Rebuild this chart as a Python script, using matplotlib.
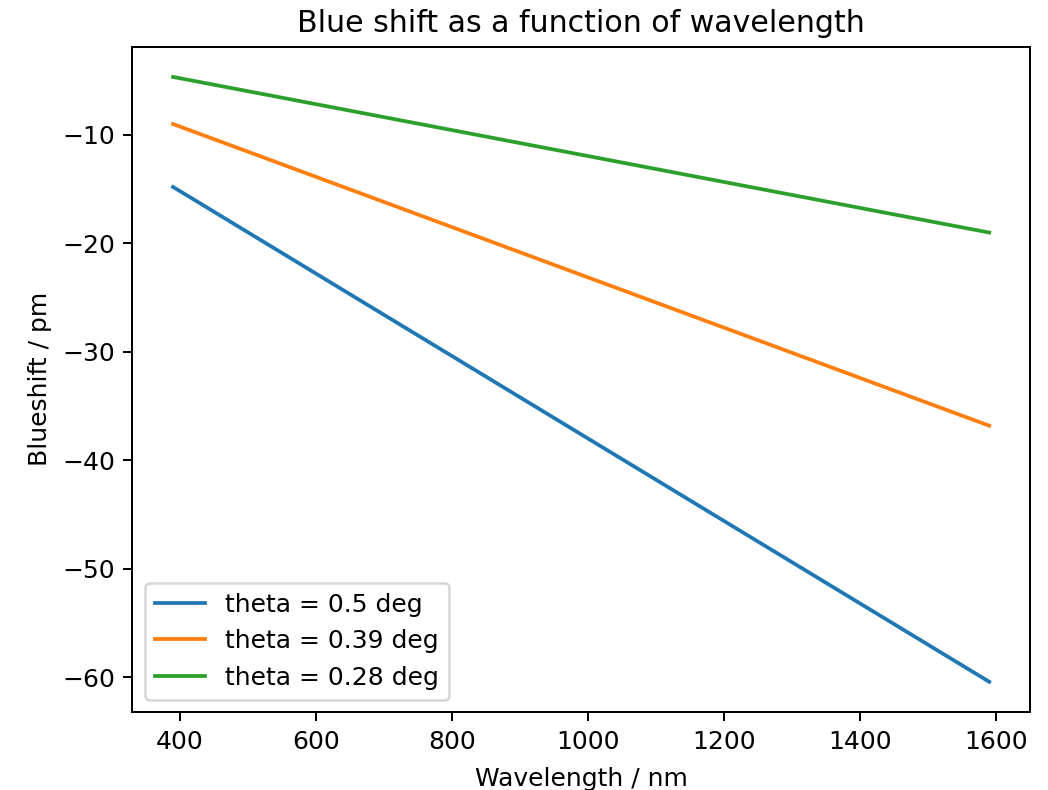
import matplotlib
matplotlib.use("Agg")
import matplotlib.pyplot as plt

wavelength = [390, 1590]
shift_05 = [-14.8, -60.4]
shift_039 = [-9.0, -36.8]
shift_028 = [-4.66, -19.0]
labels = ["theta = 0.5 deg", "theta = 0.39 deg", "theta = 0.28 deg"]

W, H, DPI = 1048, 790, 180
fig = plt.figure(figsize=(W / DPI, H / DPI), dpi=DPI)
ax = fig.add_axes([132.3 / W, (H - 712) / H, (1030 - 132.3) / W, (712 - 46.7) / H])

for ys, lab in zip([shift_05, shift_039, shift_028], labels):
    ax.plot(wavelength, ys, label=lab)

ax.set_title("Blue shift as a function of wavelength")
ax.set_xlabel("Wavelength / nm", labelpad=5.5)
ax.set_ylabel("Blueshift / pm")
ax.legend(loc="lower left")

fig.savefig("out.png", dpi=DPI)
